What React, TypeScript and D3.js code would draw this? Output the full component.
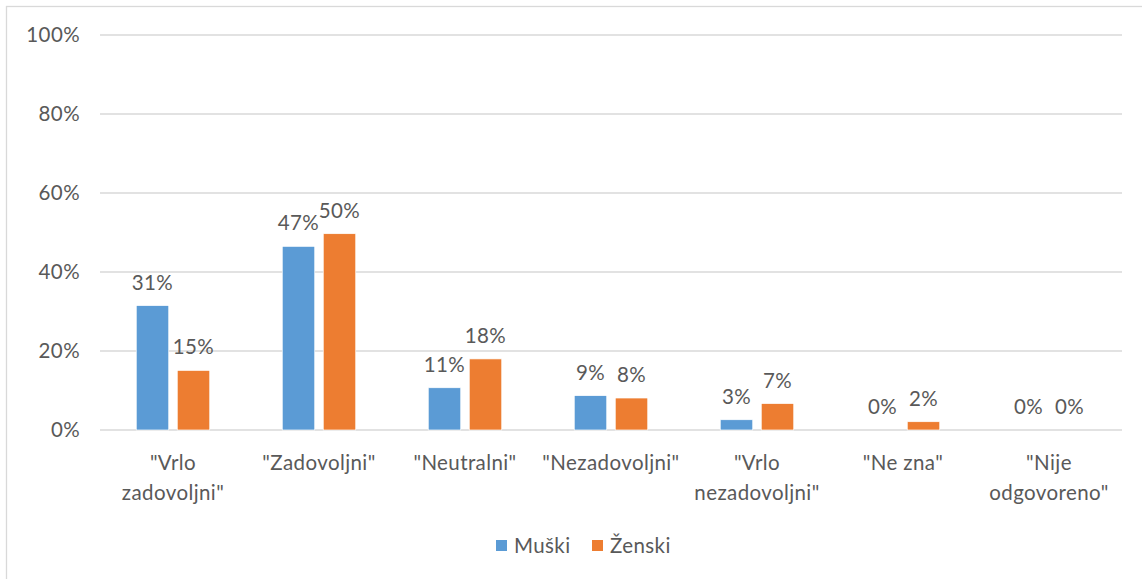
import React from "react";
import * as d3 from "d3";

const categories = [
  ["\"Vrlo", "zadovoljni\""],
  ["\"Zadovoljni\""],
  ["\"Neutralni\""],
  ["\"Nezadovoljni\""],
  ["\"Vrlo", "nezadovoljni\""],
  ["\"Ne zna\""],
  ["\"Nije", "odgovoreno\""],
];
const seriesNames = ["Muški", "Ženski"];
const muski = [0.315, 0.465, 0.107, 0.087, 0.026, 0, 0];
const zenski = [0.151, 0.497, 0.18, 0.081, 0.067, 0.021, 0];
const muskiLabels = ["31%", "47%", "11%", "9%", "3%", "0%", "0%"];
const zenskiLabels = ["15%", "50%", "18%", "8%", "7%", "2%", "0%"];
const yTicks = [0, 0.2, 0.4, 0.6, 0.8, 1];
const colors = ["#5b9bd5", "#ed7d31"];

const W = 1142;
const H = 579;
const plotLeft = 100;
const plotRight = 1122;
const plotTop = 35;
const plotBottom = 430;
const FONT = "Lato, 'Open Sans', sans-serif";
const TXT = "#595959";
const FS = 20.5;
const LS = 0.4;

export default function App() {
  const x = d3
    .scaleBand<number>()
    .domain(d3.range(categories.length))
    .range([plotLeft, plotRight]);
  const y = d3.scaleLinear().domain([0, 1]).range([plotBottom, plotTop]);
  const barW = 32.5;
  const gap = 8.5;
  const series = [muski, zenski];
  const labels = [muskiLabels, zenskiLabels];

  return (
    <svg
      width={W}
      height={H}
      style={{ position: "absolute", left: 0, top: 0, background: "#fff" }}
      fontFamily={FONT}
      letterSpacing={LS}
    >
      <rect x={6.5} y={6.5} width={W + 10} height={H + 10} fill="none" stroke="#d9d9d9" strokeWidth={1.3} />
      {yTicks.map((t) => (
        <g key={t}>
          <line x1={plotLeft} x2={plotRight} y1={y(t)} y2={y(t)} stroke="#d9d9d9" strokeWidth={1.5} />
          <text x={80} y={y(t)} dy="0.35em" textAnchor="end" fontSize={FS} fill={TXT}>
            {d3.format(".0%")(t)}
          </text>
        </g>
      ))}
      {categories.map((c, i) => {
        const cx = (x(i) as number) + x.bandwidth() / 2;
        return (
          <g key={i}>
            {series.map((s, k) => {
              const bx = k === 0 ? cx - gap / 2 - barW : cx + gap / 2;
              return (
                <g key={k}>
                  {s[i] > 0 && (
                    <rect
                      x={bx}
                      y={y(s[i])}
                      width={barW}
                      height={plotBottom - y(s[i])}
                      fill={colors[k]}
                      stroke="#fff"
                      strokeWidth={0.7}
                    />
                  )}
                  <text x={bx + barW / 2} y={y(s[i]) - 16} textAnchor="middle" fontSize={FS} fill={TXT}>
                    {labels[k][i]}
                  </text>
                </g>
              );
            })}
            {c.map((line, j) => (
              <text key={j} x={cx} y={470 + j * 30} textAnchor="middle" fontSize={FS} fill={TXT}>
                {line}
              </text>
            ))}
          </g>
        );
      })}
      <g>
        <rect x={496} y={540} width={11} height={11} fill={colors[0]} />
        <text x={514} y={553} fontSize={FS} fill={TXT}>{seriesNames[0]}</text>
        <rect x={592} y={540} width={11} height={11} fill={colors[1]} />
        <text x={610} y={553} fontSize={FS} fill={TXT}>{seriesNames[1]}</text>
      </g>
    </svg>
  );
}
